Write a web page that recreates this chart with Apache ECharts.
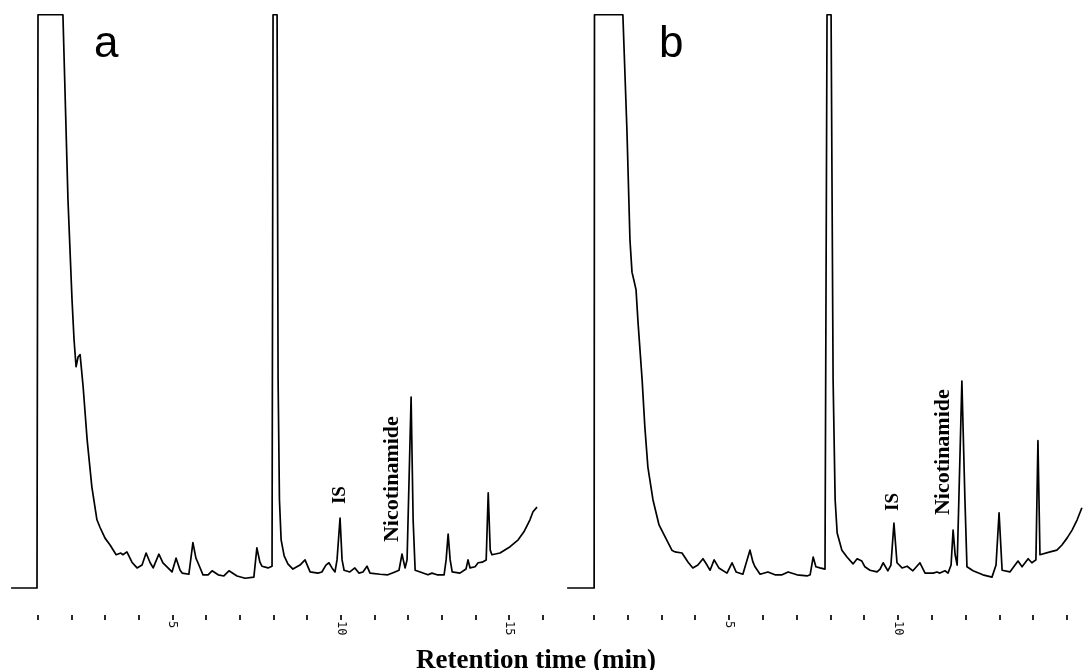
<!DOCTYPE html>
<html>
<head>
<meta charset="utf-8">
<script src="https://cdn.jsdelivr.net/npm/echarts@6/dist/echarts.min.js"></script>
<style>
html,body{margin:0;padding:0;background:#fff;}
#chart{width:1083px;height:670px;}
</style>
</head>
<body>
<div id="chart"></div>
<script>
// Panel a: retention time (min) and detector signal (relative units, 100 = full scale)
const timeA = [0.21,0.98,1.01,1.75,1.90,2.02,2.08,2.14,2.20,2.26,
  2.35,2.47,2.61,2.76,2.85,3.00,3.15,3.33,3.47,3.53,
  3.65,3.80,3.95,4.10,4.22,4.34,4.43,4.60,4.72,4.84,
  4.99,5.11,5.23,5.29,5.49,5.61,5.70,5.76,5.91,6.06,
  6.18,6.36,6.53,6.68,6.92,7.16,7.42,7.51,7.60,7.66,
  7.84,7.96,7.99,8.11,8.14,8.18,8.23,8.32,8.43,8.58,
  8.79,8.94,9.09,9.32,9.44,9.56,9.65,9.74,9.83,9.89,
  9.98,10.04,10.10,10.27,10.42,10.54,10.66,10.78,10.87,11.17,
  11.40,11.61,11.73,11.82,11.91,11.97,12.09,12.15,12.21,12.36,
  12.59,12.71,12.86,13.07,13.13,13.19,13.25,13.31,13.54,13.72,
  13.78,13.84,13.99,14.08,14.20,14.32,14.38,14.44,14.49,14.73,
  15.03,15.27,15.44,15.62,15.71,15.83];
const signalA = [0,0,100,100,67.7,50.3,43.3,38.6,40.3,40.7,
  35.1,25.8,17.6,11.9,10.6,8.7,7.5,5.8,6.1,5.8,
  6.3,4.5,3.5,4.0,6.1,4.4,3.5,5.9,4.4,3.7,
  2.8,5.2,3.1,2.6,2.4,7.9,5.2,4.4,2.3,2.3,
  3.0,2.3,2.1,3.0,2.1,1.7,1.9,7.0,4.5,3.8,
  3.5,3.8,100,100,36.3,15.4,8.4,5.6,4.2,3.3,
  4.0,4.9,2.8,2.6,2.8,4.0,4.4,3.5,2.8,4.9,
  12.2,4.9,3.1,2.8,3.5,2.6,2.8,3.8,2.6,2.4,
  2.3,2.8,3.1,5.9,3.5,4.9,33.3,11.9,3.1,2.8,
  2.3,2.6,2.3,2.3,4.9,9.4,4.9,2.8,2.6,3.3,
  4.9,3.5,3.7,4.4,4.5,4.9,16.6,6.6,5.8,6.1,
  7.2,8.4,9.8,11.9,13.3,14.1];

// Panel b
const timeB = [0.21,1.01,1.02,1.86,1.98,2.07,2.13,2.19,2.25,2.31,
  2.43,2.51,2.60,2.75,2.93,3.11,3.31,3.40,3.61,3.79,
  3.93,4.08,4.23,4.35,4.44,4.56,4.70,4.94,5.09,5.21,
  5.41,5.62,5.71,5.77,5.92,6.15,6.36,6.57,6.75,7.01,
  7.31,7.40,7.49,7.57,7.69,7.84,7.90,8.02,8.08,8.14,
  8.20,8.34,8.49,8.67,8.79,8.93,9.02,9.17,9.38,9.47,
  9.56,9.70,9.79,9.88,9.97,10.12,10.27,10.44,10.65,10.80,
  11.04,11.15,11.24,11.39,11.48,11.57,11.63,11.69,11.75,11.80,
  11.89,11.98,12.04,12.22,12.51,12.78,12.90,12.99,13.08,13.31,
  13.55,13.67,13.85,13.96,14.08,14.14,14.20,14.50,14.70,14.85,
  15.00,15.15,15.30,15.44];
const signalB = [0,0,100,100,79.9,60.7,55.1,53.6,52.0,46.2,
  36.3,28.1,21.1,15.4,11.0,8.9,6.6,6.3,6.1,4.5,
  3.5,4.0,5.1,4.0,3.1,4.9,3.5,2.6,4.4,2.8,
  2.4,6.6,4.5,3.7,2.4,2.8,2.3,2.3,2.8,2.3,
  2.1,2.3,5.4,3.7,3.5,3.3,100,100,36.3,15.4,
  9.6,6.6,5.4,4.2,5.1,4.7,3.7,3.1,2.8,3.3,
  4.4,3.0,4.0,11.3,4.4,3.5,3.8,3.0,4.4,2.6,
  2.6,2.8,2.6,3.0,2.6,4.0,10.1,5.8,4.0,15.4,
  36.1,15.4,3.7,3.0,2.3,1.9,4.0,13.1,3.1,2.8,
  4.7,3.7,5.1,4.4,4.9,25.7,5.8,6.3,6.6,7.5,
  8.7,10.1,11.9,14.0];

// Axis ticks and labels (minutes)
const ticksA = [1,2,3,4,5,6,7,8,9,10,11,12,13,14,15,16];
const tickLabelsA = [5,10,15];
const ticksB = [1,2,3,4,5,6,7,8,9,10,11,12,13,14,15];
const tickLabelsB = [5,10];

// Peak annotations (label centre in data units)
const annotA = [
  {text:'IS', t:9.98, s:16.2},
  {text:'Nicotinamide', t:11.52, s:19.0}
];
const annotB = [
  {text:'IS', t:9.85, s:15.0},
  {text:'Nicotinamide', t:11.33, s:23.7}
];

const panelNames = ['a','b'];
const axisTitle = 'Retention time (min)';

function zip(t, s){ return t.map((v,i)=>[v, s[i]]); }

function markLabels(list){
  return {
    symbol:'circle', symbolSize:0, silent:true, animation:false,
    label:{show:true, position:'inside', rotate:90, formatter:p=>p.name,
      fontFamily:'Liberation Serif', fontWeight:'bold', color:'#000'},
    data:list.map(a=>({name:a.text, coord:[a.t,a.s],
      label:{fontSize: a.text==='IS' ? 19 : 22}}))
  };
}

function xAxisFor(idx, max, ticks, labels){
  return {
    gridIndex:idx, type:'value', min:0, max:max, position:'bottom',
    axisLine:{show:false, onZero:false}, splitLine:{show:false},
    axisTick:{show:true, customValues:ticks, length:5, lineStyle:{color:'#111', width:1.8}},
    axisLabel:{show:true, customValues:labels, rotate:-90, margin:6,
      fontSize:12, fontFamily:'DejaVu Sans Mono', color:'#111'}
  };
}

const chart = echarts.init(document.getElementById('chart'), null, {renderer:'canvas'});
chart.setOption({
  backgroundColor:'#fff',
  animation:false,
  title:[
    {text:panelNames[0], left:89, top:18, textStyle:{fontFamily:'Liberation Sans', fontWeight:'normal', fontSize:44, color:'#000'}},
    {text:panelNames[1], left:654, top:18, textStyle:{fontFamily:'Liberation Sans', fontWeight:'normal', fontSize:44, color:'#000'}},
    {text:axisTitle, left:411, top:643, textStyle:{fontFamily:'Liberation Serif', fontWeight:'bold', fontSize:27, color:'#000'}}
  ],
  grid:[
    {left:4, top:9, width:545.5, height:606},
    {left:560, top:9, width:523, height:606}
  ],
  xAxis:[
    xAxisFor(0, 16.2, ticksA, tickLabelsA),
    xAxisFor(1, 15.473, ticksB, tickLabelsB)
  ],
  yAxis:[
    {gridIndex:0, type:'value', min:-4.71, max:101, show:false},
    {gridIndex:1, type:'value', min:-4.71, max:101, show:false}
  ],
  series:[
    {type:'line', xAxisIndex:0, yAxisIndex:0, data:zip(timeA, signalA),
      symbol:'none', showSymbol:false, clip:true, smooth:false,
      lineStyle:{color:'#000', width:1.7, join:'round'}, markPoint:markLabels(annotA)},
    {type:'line', xAxisIndex:1, yAxisIndex:1, data:zip(timeB, signalB),
      symbol:'none', showSymbol:false, clip:true, smooth:false,
      lineStyle:{color:'#000', width:1.7, join:'round'}, markPoint:markLabels(annotB)}
  ]
});
</script>
</body>
</html>
